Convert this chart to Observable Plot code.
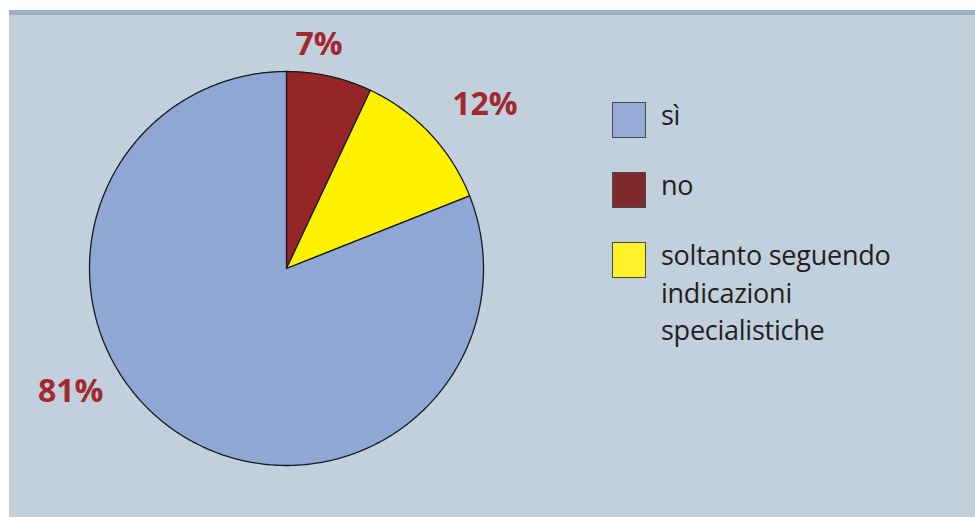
<!DOCTYPE html>
<html>
<head>
<meta charset="utf-8">
<script src="https://cdn.jsdelivr.net/npm/d3@7"></script>
<script src="https://cdn.jsdelivr.net/npm/@observablehq/plot@0.6"></script>
<style>
  html, body { margin: 0; padding: 0; background: #ffffff; }
  #wrap { position: relative; width: 975px; height: 517px; overflow: hidden; }
  #panel { position: absolute; left: 9px; top: 10px; right: 0; bottom: 0; background: #c2d0de; border-top: 5px solid #9cb1c4; }
  #chart { position: absolute; left: 0; top: 0; }
  #legend { position: absolute; left: 612px; top: 102px; font-family: "Open Sans", sans-serif; color: #231f20; }
  .item { position: absolute; left: 0; width: 360px; }
  .sw { position: absolute; left: 0; top: 0; width: 32px; height: 34px; border: 1.5px solid #4a4a4a; }
  .lbl { position: absolute; left: 49px; top: -6px; font-size: 27px; line-height: 37.5px; letter-spacing: -0.25px; white-space: nowrap; }
</style>
</head>
<body>
<div id="wrap">
  <div id="panel"></div>
  <div id="chart"></div>
  <div id="legend"></div>
</div>
<script>
// Data (clockwise from 12 o'clock)
const categories = ["no", "soltanto seguendo indicazioni specialistiche", "sì"];
const values = [7, 12, 81];
const labels = ["7%", "12%", "81%"];
const pieColors = ["#952628", "#fff200", "#8fa7d4"];
// Legend order
const legendCategories = ["sì", "no", "soltanto seguendo indicazioni specialistiche"];
const legendLines = [["sì"], ["no"], ["soltanto seguendo", "indicazioni", "specialistiche"]];
const legendColors = ["#98aad7", "#7f2a2a", "#fff22a"];

const arcs = d3.pie().sort(null).value(d => d)(values);
const pts = [];
arcs.forEach((a, i) => {
  const key = categories[i];
  pts.push({key, x: 0, y: 0});
  const n = Math.max(2, Math.ceil((a.endAngle - a.startAngle) / (Math.PI / 360)));
  for (let k = 0; k <= n; k++) {
    const t = a.startAngle + (a.endAngle - a.startAngle) * k / n;
    pts.push({key, x: Math.sin(t), y: Math.cos(t)});
  }
  pts.push({key, x: 0, y: 0});
});

const labelPos = arcs.map((a, i) => {
  const m = (a.startAngle + a.endAngle) / 2;
  return {label: labels[i], x: 1.2 * Math.sin(m), y: 1.2 * Math.cos(m)};
});

const textStyle = {fontSize: 32, fontWeight: "bold", fill: "#a2282f", fontFamily: "Open Sans", text: "label", x: "x", y: "y"};

const plot = Plot.plot({
  width: 975,
  height: 517,
  x: {domain: [-1, 1], range: [89, 483], axis: null},
  y: {domain: [-1, 1], range: [465, 71], axis: null},
  color: {domain: categories, range: pieColors},
  style: {background: "transparent", overflow: "visible"},
  marks: [
    Plot.line(pts, {x: "x", y: "y", z: "key", fill: "key", stroke: "#1a1a1a", strokeWidth: 1.3, strokeLinejoin: "round", curve: "linear"}),
    Plot.text([labelPos[0]], {...textStyle, dx: -19, dy: 7}),
    Plot.text([labelPos[1]], {...textStyle, dx: 26, dy: -2}),
    Plot.text([labelPos[2]], {...textStyle, dx: -83, dy: -72})
  ]
});
document.getElementById("chart").appendChild(plot);

const legend = d3.select("#legend");
legendCategories.forEach((c, i) => {
  const item = legend.append("div").attr("class", "item").style("top", (i * 70) + "px");
  item.append("div").attr("class", "sw").style("background", legendColors[i]);
  item.append("div").attr("class", "lbl").html(legendLines[i].join("<br>"));
});
</script>
</body>
</html>
